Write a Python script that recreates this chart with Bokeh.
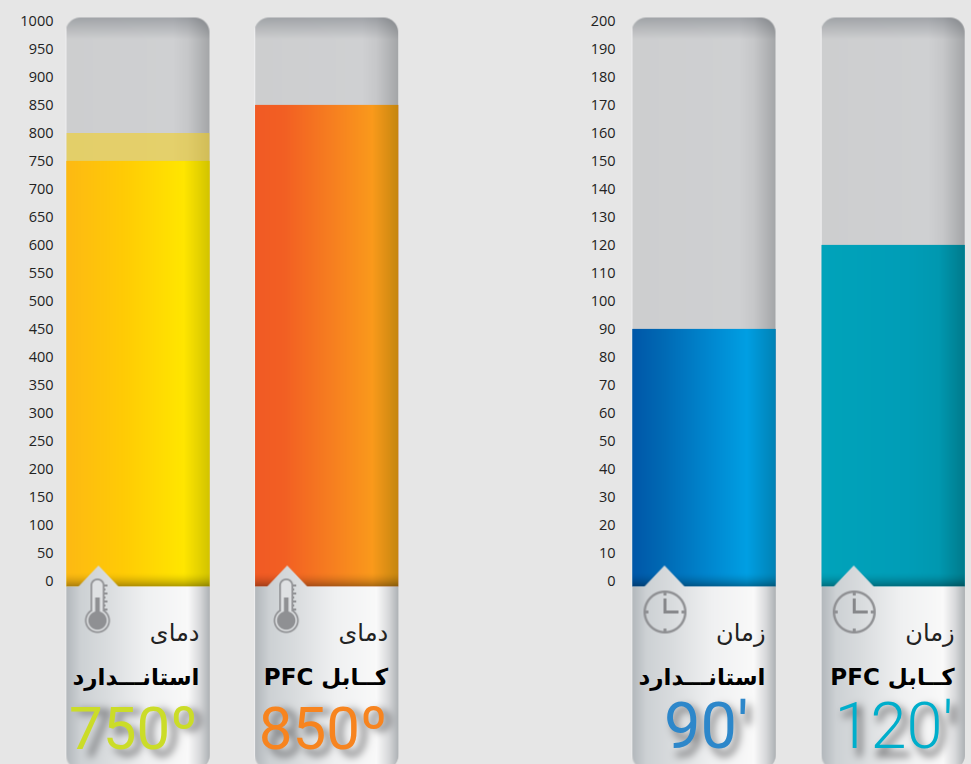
import numpy as np
from bokeh.core.properties import value
from bokeh.embed import file_html
from bokeh.layouts import row
from bokeh.models import FixedTicker, GlobalInlineStyleSheet, Range1d
from bokeh.plotting import figure
from bokeh.resources import INLINE

# ---- data ----
temp_values = [750, 850]
temp_ceiling = [800, None]
temp_ticks = list(range(0, 1001, 50))
temp_labels = ["750º", "850º"]
temp_label_colors = ["#cbdc28", "#f7841f"]
temp_title = "دمای"

time_values = [90, 120]
time_ticks = list(range(0, 201, 10))
time_labels = ["90'", "120'"]
time_label_colors = ["#2d87ca", "#00aecb"]
time_title = "زمان"

names = ["استانـــدارد", "PFC کــابل"]

BG = "#e6e6e6"
H = 764
ZERO_PX = 580.4
TOP_PX = 17
BAR_BOTTOM_PX = 586
CARD_BOTTOM_PX = 769
TRACK_W = 143
BASE_SHIFT = .34
NUM_BASE_PX = 748

grad_temp = [
    [(0, "#fdb913"), (.4, "#ffcb05"), (.82, "#ffe600"), (1, "#d2c400")],
    [(0, "#f15a24"), (.2, "#f25f23"), (.6, "#f7851f"), (.82, "#fa9a1b"), (1, "#c5860f")],
]
grad_time = [
    [(0, "#0057a8"), (.2, "#0068b3"), (.55, "#0088d0"), (.8, "#009fe3"), (1, "#0083b5")],
    [(0, "#00a3ba"), (.6, "#009db7"), (.82, "#0098b0"), (1, "#007b8c")],
]
track_stops = [(0, "#cdcecf"), (.75, "#cfd0d2"), (.85, "#c6c7c9"), (1, "#a4a6a8")]
card_stops = [(0, "#b3b8bc"), (.1, "#cdd1d4"), (.28, "#d9dcde"), (.55, "#eff0f1"),
              (.85, "#f9f9f9"), (.93, "#d9dadc"), (1, "#aeb2b5")]
ICON = np.array([0x8f, 0x90, 0x93], float)

# rough stroke outlines, only used to shape the soft blurred shadow behind the big numbers
_ring = lambda cx, cy, rx, ry: [(cx + rx * np.cos(t), cy + ry * np.sin(t)) for t in np.linspace(0, 2 * np.pi, 25)]
SHADOW_STROKES = {
    "0": [_ring(.5, .5, .36, .5)],
    "1": [[(.2, .15), (.58, 0), (.58, 1)]],
    "2": [[(.12, .25), (.25, .05), (.5, 0), (.75, .07), (.85, .25), (.75, .45), (.1, 1), (.9, 1)]],
    "5": [[(.82, 0), (.24, 0), (.17, .5), (.45, .4), (.72, .47), (.85, .68), (.72, .92), (.45, 1), (.15, .88)]],
    "7": [[(.08, 0), (.9, 0), (.38, 1)]],
    "8": [_ring(.5, .25, .31, .25), _ring(.5, .74, .36, .26)],
    "9": [_ring(.48, .33, .34, .33), [(.82, .33), (.78, .75), (.55, .97), (.25, 1)]],
    "º": [_ring(.5, .2, .33, .2)],
    "'": [[(.5, -.02), (.5, .3)]],
}
ADV = {"º": .39, "'": .17}


def rgb(h):
    return np.array([int(h[i:i + 2], 16) for i in (1, 3, 5)], float)


def hgrad(stops, w):
    f = (np.arange(w) + .5) / w
    xs = [s[0] for s in stops]
    cs = np.array([rgb(s[1]) for s in stops])
    return np.stack([np.interp(f, xs, cs[:, i]) for i in range(3)], 1)


def to_rgba(c, a):
    out = np.dstack([np.clip(c, 0, 255), np.clip(a, 0, 1) * 255]).round().astype(np.uint8)
    return out[::-1].view(np.uint32).reshape(out.shape[:2])


def rounded_alpha(w, h, r, top=True, bottom=False):
    X, Y = np.meshgrid(np.arange(w) + .5, np.arange(h) + .5)
    dx = np.maximum(np.maximum(r - X, X - (w - r)), 0)
    a = np.ones((h, w))
    if top:
        dy = np.maximum(r - Y, 0)
        d = np.hypot(dx, dy)
        a = np.minimum(a, np.where(dy > 0, np.clip(r - d + .5, 0, 1), 1))
    if bottom:
        dy = np.maximum(Y - (h - r), 0)
        d = np.hypot(dx, dy)
        a = np.minimum(a, np.where(dy > 0, np.clip(r - d + .5, 0, 1), 1))
    return a


def track_image():
    h = CARD_BOTTOM_PX - TOP_PX
    w = TRACK_W + 1
    c = np.repeat(hgrad(track_stops, w)[None], h, 0)
    t = np.clip((np.arange(h) + .5) / 22, 0, 1)[:, None, None]
    top = np.array([0xa0, 0xa2, 0xa5], float)
    c = c * t + (c * top / 0xcd) * (1 - t)
    c[:, 0] = np.array([0xef, 0xef, 0xf0], float)
    a = rounded_alpha(w, h, 15, True, True)
    return to_rgba(c, a)


def fill_image(val, scale, stops):
    h = max(int(round((val * scale + BAR_BOTTOM_PX - ZERO_PX))), 1)
    c = np.repeat(hgrad(stops, TRACK_W)[None], h, 0)
    dist = h - (np.arange(h) + .5)
    shade = 1 - .33 * np.clip(1 - dist / 14, 0, 1) ** 1.6
    return to_rgba(c * shade[:, None, None], np.ones((h, TRACK_W)))


def blend(c, a, mask, color):
    mask = np.clip(mask, 0, 1)[..., None]
    c[:] = c * (1 - mask) + color * mask
    a[:] = np.maximum(a, mask[..., 0])


def seg_dist(X, Y, p, q):
    p, q = np.array(p), np.array(q)
    d = q - p
    t = np.clip(((X - p[0]) * d[0] + (Y - p[1]) * d[1]) / max((d ** 2).sum(), 1e-9), 0, 1)
    return np.hypot(X - p[0] - t * d[0], Y - p[1] - t * d[1])


def gauss(m, s):
    k = np.exp(-.5 * (np.arange(-12, 13) / s) ** 2)
    k /= k.sum()
    m = np.apply_along_axis(lambda r: np.convolve(r, k, "same"), 0, m)
    return np.apply_along_axis(lambda r: np.convolve(r, k, "same"), 1, m)


def shadow_mask(X, Y, label, right_px, size):
    adv = [ADV.get(ch, .5615) * size for ch in label]
    x = right_px - sum(adv)
    cap = .711 * size
    d = np.full(X.shape, 1e9)
    for ch, ad in zip(label, adv):
        for stroke in SHADOW_STROKES[ch]:
            for u, v in zip(stroke[:-1], stroke[1:]):
                pu = (x + u[0] * ad + 5, NUM_BASE_PX - cap + u[1] * cap + 6)
                pv = (x + v[0] * ad + 5, NUM_BASE_PX - cap + v[1] * cap + 6)
                d = np.minimum(d, seg_dist(X, Y, pu, pv))
        x += ad
    return gauss(np.clip(3.2 - d, 0, 1), 4)


def card_image(kind, label, right_px, size):
    notch_top = 565
    h = CARD_BOTTOM_PX - notch_top
    X, Y = np.meshgrid(np.arange(TRACK_W) + .5, np.arange(h) + notch_top + .5)
    c = np.repeat(hgrad(card_stops, TRACK_W)[None], h, 0)
    s = shadow_mask(X, Y, label, right_px, size)[..., None]
    c = c * (1 - .62 * s) + np.array([0x40, 0x40, 0x42], float) * .62 * s
    body = np.clip(Y - BAR_BOTTOM_PX + .5, 0, 1)
    rnd = rounded_alpha(TRACK_W, h, 15, False, True)
    apex = 32
    hw = 20 * np.clip((Y - notch_top) / (BAR_BOTTOM_PX - notch_top), 0, 1)
    notch = np.clip(hw - np.abs(X - apex) + .5, 0, 1) * (Y < BAR_BOTTOM_PX)
    a = np.maximum(body, notch) * rnd
    if kind == "temp":
        cx, y0, y1 = 31, 585, 620
        dy = Y - np.clip(Y, y0, y1)
        tube = np.hypot(X - cx, dy)
        bulb = np.hypot(X - cx, Y - y1)
        sd_out = np.minimum(tube - 7, bulb - 12.5)
        blend(c, a, np.clip(.5 - sd_out, 0, 1), ICON)
        sd_in = np.minimum(tube - 5.3, bulb - 10.8)
        blend(c, a, np.clip(.5 - sd_in, 0, 1), np.array([0xdf, 0xe1, 0xe3], float))
        blend(c, a, np.clip(9.2 + .5 - bulb, 0, 1), ICON)
        merc = np.clip(2.3 + .5 - np.abs(X - cx), 0, 1) * np.clip(Y - 597 + .5, 0, 1) * (Y < y1)
        blend(c, a, merc, ICON)
        for ty in range(585, 610, 4):
            tw = 10 if (ty - 585) % 8 == 0 else 8
            tick = ((X > cx + 7) & (X < cx + tw) & (np.abs(Y - ty) < 1)).astype(float)
            blend(c, a, tick, ICON)
    else:
        cx, cy, R = 32.5, 611.5, 21.5
        d = np.hypot(X - cx, Y - cy)
        blend(c, a, np.clip(1.2 + .5 - np.abs(d - (R - 1.2)), 0, 1), ICON)
        ticks = ((np.abs(X - cx) < 1.1) & (np.abs(np.abs(Y - cy) - R + 3) < 2.5)) | (
            (np.abs(Y - cy) < 1.1) & (np.abs(np.abs(X - cx) - R + 3) < 2.5))
        blend(c, a, ticks.astype(float), ICON)
        hand = ((np.abs(X - cx) < 1.3) & (Y > cy - 14) & (Y < cy + 1.3)) | (
            (np.abs(Y - cy) < 1.3) & (X > cx - 1.3) & (X < cx + 14))
        blend(c, a, hand.astype(float), np.array([0x86, 0x87, 0x8a], float))
    return to_rgba(c, a)


def panel(width, frame_left, left_pad, first_center, spacing, scale, vals, ticks, stops_list, texts,
          label_colors, title, kind, num_style, ceil=None):
    to_x = lambda px: (px - first_center) / spacing
    to_y = lambda px: (ZERO_PX - px) / scale
    p = figure(width=width, height=H, output_backend="svg", toolbar_location=None,
               x_range=Range1d(to_x(frame_left), to_x(frame_left + width - left_pad)),
               y_range=Range1d(to_y(H), to_y(0)),
               background_fill_color=BG, border_fill_color=BG,
               min_border=0, min_border_left=left_pad)
    p.outline_line_color = None
    p.grid.visible = False
    p.xaxis.visible = False
    ax = p.yaxis[0]
    ax.ticker = FixedTicker(ticks=ticks)
    ax.axis_line_color = None
    ax.major_tick_line_color = None
    ax.minor_tick_line_color = None
    ax.major_tick_out = 0
    ax.major_label_standoff = 5
    ax.major_label_text_font = "Open Sans"
    ax.major_label_text_font_size = "14.5px"
    ax.major_label_text_color = "#222222"

    w = TRACK_W / spacing
    xs = list(range(len(vals)))
    base = to_y(BAR_BOTTOM_PX)
    track = track_image()
    for i, val in enumerate(vals):
        left = i - w / 2
        p.image_rgba(image=[track], x=left - 1 / spacing, y=to_y(CARD_BOTTOM_PX), dw=w + 1 / spacing,
                     dh=to_y(TOP_PX) - to_y(CARD_BOTTOM_PX))
        if ceil is not None and ceil[i] is not None:
            p.quad(left=left, right=left + w, bottom=val, top=ceil[i],
                   fill_color="#f6cf16", fill_alpha=.55, line_color=None)
    p.vbar(x=xs, width=w, top=vals, bottom=base, fill_color=[s[1][1] for s in stops_list],
           line_color=None)
    for i, val in enumerate(vals):
        left = i - w / 2
        font, size, pad = num_style[i]
        card = card_image(kind, texts[i], TRACK_W - pad, size)
        p.image_rgba(image=[fill_image(val, scale, stops_list[i])], x=left, y=base, dw=w, dh=val - base)
        p.image_rgba(image=[card], x=left, y=to_y(CARD_BOTTOM_PX), dw=w,
                     dh=to_y(565) - to_y(CARD_BOTTOM_PX))
    rx = [i + (TRACK_W / 2 - 10) / spacing for i in xs]
    size_a, size_b = 24, 23
    p.text(x=rx, y=[to_y(641 - BASE_SHIFT * size_a)] * 2, text=[title] * 2, text_font=value("DejaVu Sans"),
           text_font_size=f"{size_a}px", text_color="#222222", text_align="right", text_baseline="alphabetic")
    p.text(x=rx, y=[to_y(684 - BASE_SHIFT * size_b)] * 2, text=names, text_font=value("DejaVu Sans"),
           text_font_style="bold", text_font_size=f"{size_b}px", text_color="#000000",
           text_align="right", text_baseline="alphabetic")
    for i, (font, size, pad) in enumerate(num_style):
        p.text(x=[i + (TRACK_W / 2 - pad) / spacing], y=[to_y(NUM_BASE_PX - BASE_SHIFT * size)], text=[texts[i]],
               text_font=value(font), text_font_size=f"{size}px", text_color=label_colors[i],
               text_align="right", text_baseline="alphabetic")
    return p


p1 = panel(485, 58, 58, 137.5, 188.7, .56, temp_values, temp_ticks, grad_temp, temp_labels,
           temp_label_colors, temp_title, "temp",
           [("Roboto", 60, 12), ("Roboto", 60, 11)], temp_ceiling)
p2 = panel(486, 620, 135, 703.5, 189.2, 2.8, time_values, time_ticks, grad_time, time_labels,
           time_label_colors, time_title, "time",
           [("Roboto", 65, 27), ("Roboto Light", 65, 11)])
p = row(p1, p2, spacing=0)
p.stylesheets = [GlobalInlineStyleSheet(css=f"html,body{{margin:0;padding:0;background:{BG};overflow:hidden}}")]
open("out.html", "w").write(file_html(p, INLINE))
